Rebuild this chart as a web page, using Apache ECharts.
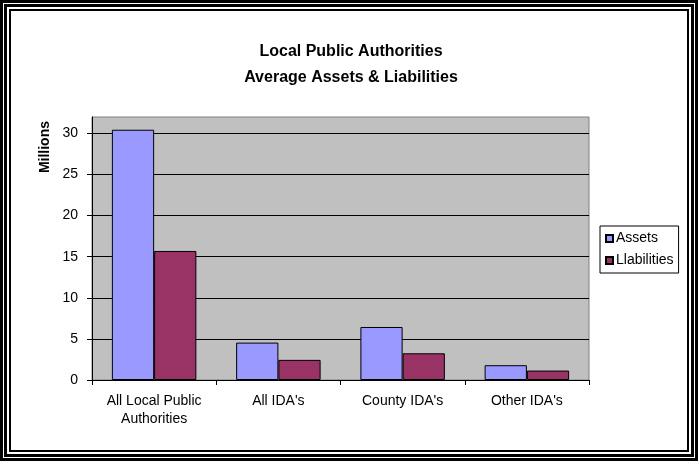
<!DOCTYPE html>
<html>
<head>
<meta charset="utf-8">
<script src="https://cdn.jsdelivr.net/npm/echarts@6/dist/echarts.min.js"></script>
<style>
html,body{margin:0;padding:0;background:#fff;}
#chart{width:698px;height:461px;}
</style>
</head>
<body>
<div id="chart"></div>
<script>
var categories = ["All Local Public\nAuthorities", "All IDA's", "County IDA's", "Other IDA's"];
var assets = [30.45, 4.55, 6.45, 1.8];
var liabilities = [15.7, 2.45, 3.25, 1.15];
var seriesNames = ["Assets", "Llabilities"];
var titleLines = ["Local Public Authorities", "Average Assets & Liabilities"];
var yAxisTitle = "Millions";

var chart = echarts.init(document.getElementById('chart'), null, {renderer: 'canvas'});
var font = 'Liberation Sans, Arial, sans-serif';
chart.setOption({
  animation: false,
  backgroundColor: '#fff',
  title: {
    text: titleLines.join('\n'),
    left: 346, textAlign: 'center', top: 34,
    textStyle: {fontFamily: font, fontSize: 16, fontWeight: 'bold', color: '#000', lineHeight: 26}
  },
  legend: {
    orient: 'vertical',
    left: 600, top: 226,
    padding: [5, 5, 5, 5],
    borderColor: '#000', borderWidth: 1,
    backgroundColor: '#fff',
    itemWidth: 7, itemHeight: 7, itemGap: 7,
    icon: 'rect',
    textStyle: {fontFamily: font, fontSize: 14, color: '#000', padding: [0,0,0,-2], lineHeight: 15},
    data: seriesNames
  },
  grid: {
    left: 92, right: 109, top: 117, bottom: 81,
    show: true, backgroundColor: '#C0C0C0', borderColor: '#808080', borderWidth: 1
  },
  xAxis: {
    type: 'category',
    data: categories,
    axisLine: {lineStyle: {color: '#000', width: 1}},
    axisTick: {show: true, length: 5, alignWithLabel: false, lineStyle: {color: '#000'}},
    axisLabel: {fontFamily: font, fontSize: 14, color: '#000', margin: 12, lineHeight: 18}
  },
  yAxis: {
    type: 'value',
    min: 0, max: 32, interval: 5,
    axisLine: {show: true, lineStyle: {color: '#000', width: 1}},
    axisTick: {show: true, length: 5, lineStyle: {color: '#000'}},
    axisLabel: {fontFamily: font, fontSize: 14, color: '#000', margin: 14, showMaxLabel: false},
    splitLine: {show: true, showMaxLine: false, lineStyle: {color: '#000', width: 1}}
  },
  graphic: [
    {type: 'rect', shape: {x: 1.5, y: 1.5, width: 695, height: 458}, style: {fill: 'none', stroke: '#000', lineWidth: 3}, silent: true},
    {type: 'rect', shape: {x: 5.5, y: 5.5, width: 687, height: 450}, style: {fill: 'none', stroke: '#000', lineWidth: 3}, silent: true},
    {type: 'rect', shape: {x: 10, y: 10, width: 678, height: 441}, style: {fill: 'none', stroke: '#000', lineWidth: 2}, silent: true},
    {type: 'text', left: 38, top: 121, rotation: Math.PI / 2,
     style: {text: yAxisTitle, fontFamily: font, fontSize: 14, fontWeight: 'bold', fill: '#000'}}
  ],
  series: [
    {name: seriesNames[0], type: 'bar', data: assets, barGap: '0%', barCategoryGap: '32%',
     itemStyle: {color: '#9999FF', borderColor: '#000', borderWidth: 1}},
    {name: seriesNames[1], type: 'bar', data: liabilities,
     itemStyle: {color: '#993366', borderColor: '#000', borderWidth: 1}}
  ]
});
</script>
</body>
</html>
